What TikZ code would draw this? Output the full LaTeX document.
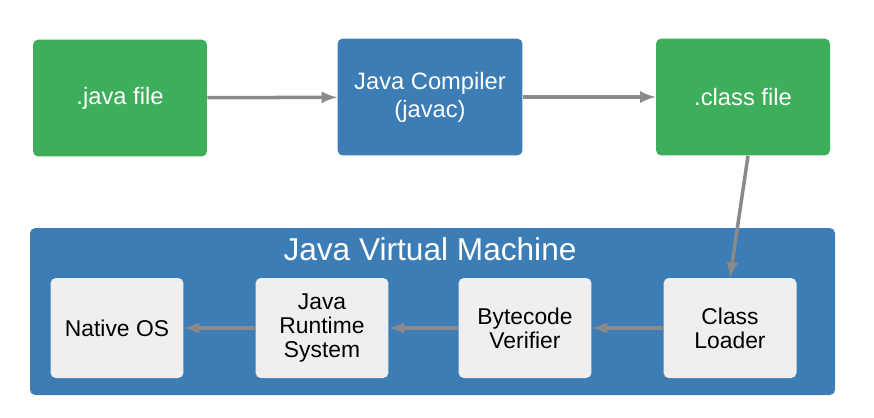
\documentclass[tikz,border=0pt]{standalone}
\usepackage{fontspec}
\setmainfont{Liberation Sans}
\usetikzlibrary{positioning}
\definecolor{filegreen}{HTML}{3DAE5A}
\definecolor{jvmblue}{HTML}{3B7DB4}
\definecolor{stepgray}{HTML}{EFEFEF}
\definecolor{arrowgray}{HTML}{8A8A8A}
\begin{document}
\begin{tikzpicture}[x=0.02cm, y=-0.02cm,
    box/.style    = {draw=none, rounded corners=3pt, align=center, text=white, font=\fontsize{13.5}{16}\selectfont,
                     minimum width=3.48cm, minimum height=2.34cm},
    stage/.style  = {draw=none, fill=stepgray, rounded corners=3pt, align=center, font=\fontsize{13}{13.5}\selectfont,
                     minimum width=2.66cm, minimum height=2cm},
    flow/.style   = {draw=arrowgray, line width=2pt, -latex}]
    \useasboundingbox (0,0) rectangle (874,417);
    % top row
    \node[box, fill=filegreen] (java) at (120,98) {.java file};
    \node[box, fill=jvmblue, minimum width=3.7cm] (javac) at (430,97) {Java Compiler\\(javac)};
    \node[box, fill=filegreen] (class) at (743,97) {.class file};
    % jvm
    \fill[jvmblue, rounded corners=3pt] (30,228) rectangle (835,395);
    \node[text=white, font=\fontsize{18}{20}\selectfont] (jvm) at (430,249) {Java Virtual Machine};
    \node[stage] (os) at (117,328) {Native OS};
    \node[stage] (jrs) at (322,328) {Java\\Runtime\\System};
    \node[stage] (verify) at (525,328) {Bytecode\\Verifier};
    \node[stage] (loader) at (730,328) {Class\\Loader};
    % connectors
    \draw[flow] ([xshift=0.1cm]class.south) -- (loader.north);
    \draw[flow] (java) -- (javac);
    \draw[flow] (javac) -- (class);
    \draw[flow] (loader) -- (verify);
    \draw[flow] (verify) -- (jrs);
    \draw[flow] (jrs) -- (os);
\end{tikzpicture}
\end{document}
